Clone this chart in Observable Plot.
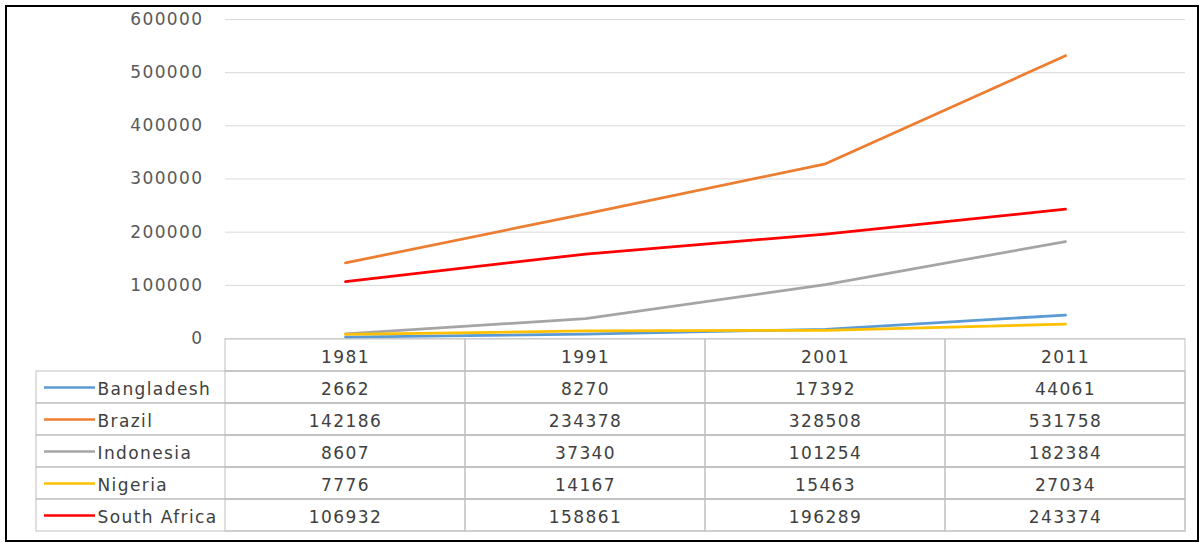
<!DOCTYPE html>
<html><head><meta charset="utf-8">
<script src="https://cdn.jsdelivr.net/npm/d3@7"></script>
<script src="https://cdn.jsdelivr.net/npm/@observablehq/plot@0.6"></script>
<style>
body{margin:0;background:#fff;}
#wrap{position:relative;width:1202px;height:542px;overflow:hidden;background:#fff;}
#border{position:absolute;left:5px;top:5px;width:1194px;height:537px;border:2px solid #000;box-sizing:border-box;}
#chart{position:absolute;left:0;top:0;}
#table{position:absolute;left:0;top:337px;}
svg text{letter-spacing:1.4px;}
</style></head>
<body><div id="wrap"><div id="border"></div><div id="chart"></div><div id="table"></div></div>
<script>
const years = ["1981", "1991", "2001", "2011"];
const countries = ["Bangladesh", "Brazil", "Indonesia", "Nigeria", "South Africa"];
const bangladesh = [2662, 8270, 17392, 44061];
const brazil = [142186, 234378, 328508, 531758];
const indonesia = [8607, 37340, 101254, 182384];
const nigeria = [7776, 14167, 15463, 27034];
const southAfrica = [106932, 158861, 196289, 243374];
const colors = ["#5B9BD5", "#ED7D31", "#A5A5A5", "#FFC000", "#FF0000"];
const yTicks = [0, 100000, 200000, 300000, 400000, 500000, 600000];

const series = [bangladesh, brazil, indonesia, nigeria, southAfrica];
const rows = [];
countries.forEach((c, i) => years.forEach((y, j) => rows.push({country: c, year: y, value: series[i][j]})));

const font = {fontFamily: "DejaVu Sans", fontSize: "17px", background: "transparent", overflow: "visible"};

const chart = Plot.plot({
  width: 1202, height: 342,
  marginTop: 19, marginBottom: 4, marginLeft: 225, marginRight: 17,
  style: {...font, color: "#595959"},
  x: {type: "point", domain: years, range: [225, 1185], padding: 0.5, axis: null},
  y: {domain: [0, 600000], axis: null},
  color: {domain: countries, range: colors},
  marks: [
    Plot.ruleY(yTicks, {stroke: "#d9d9d9", strokeWidth: 1}),
    Plot.axisY({ticks: yTicks, tickSize: 0, tickPadding: 22, tickFormat: d3.format("d"), fill: "#595959", label: null}),
    Plot.line(rows, {x: "year", y: "value", stroke: "country", z: "country", strokeWidth: 2.75})
  ]
});
document.getElementById("chart").appendChild(chart);

const header = years.map(y => ({year: y, row: "header"}));
const cells = rows.map(d => ({year: d.year, row: d.country, value: d.value}));

const table = Plot.plot({
  width: 1202, height: 200,
  marginTop: 0, marginBottom: 4, marginLeft: 36, marginRight: 17,
  style: {...font, color: "#404040"},
  x: {type: "band", domain: years, range: [225, 1185], padding: 0, axis: null},
  y: {type: "band", domain: ["header", ...countries], range: [0, 196], padding: 0, axis: null},
  color: {domain: countries, range: colors},
  marks: [
    Plot.cell(countries, {y: d => d, fill: "none", stroke: "#bfbfbf", inset: 0}),
    Plot.cell(header.concat(cells), {x: "year", y: "row", fill: "none", stroke: "#bfbfbf", inset: 0}),
    Plot.text(header, {x: "year", y: "row", text: "year", fill: "#404040", dy: 2}),
    Plot.text(cells, {x: "year", y: "row", text: d => String(d.value), fill: "#404040", dy: 2}),
    Plot.ruleY(countries, {y: d => d, stroke: d => d, strokeWidth: 2.5, insetLeft: 8, insetRight: 1090}),
    Plot.text(countries, {y: d => d, text: d => d, frameAnchor: "left", textAnchor: "start", dx: 61, dy: 2, fill: "#404040"})
  ]
});
document.getElementById("table").appendChild(table);
</script>
</body></html>
